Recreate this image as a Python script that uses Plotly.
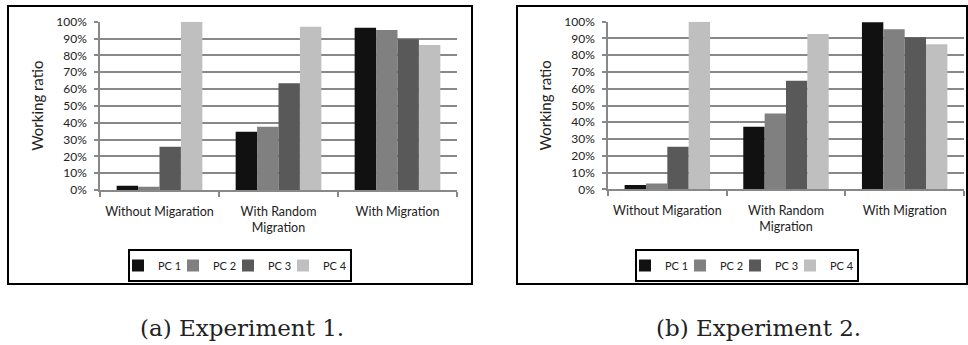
import plotly.graph_objects as go

W, H = 968, 345

categories = ["Without Migaration", "With Random<br>Migration", "With Migration"]
series_names = ["PC 1", "PC 2", "PC 3", "PC 4"]
colors = ["#111111", "#808080", "#595959", "#bfbfbf"]

exp1_pc1 = [0.025, 0.346, 0.964]
exp1_pc2 = [0.020, 0.376, 0.950]
exp1_pc3 = [0.257, 0.634, 0.895]
exp1_pc4 = [1.000, 0.970, 0.861]

exp2_pc1 = [0.026, 0.373, 0.996]
exp2_pc2 = [0.035, 0.453, 0.955]
exp2_pc3 = [0.254, 0.648, 0.907]
exp2_pc4 = [1.000, 0.927, 0.865]

tick_vals = [0, 0.1, 0.2, 0.3, 0.4, 0.5, 0.6, 0.7, 0.8, 0.9, 1.0]
tick_text = ["0%", "10%", "20%", "30%", "40%", "50%", "60%", "70%", "80%", "90%", "100%"]

captions = ["(a) Experiment 1.", "(b) Experiment 2."]

FONT = "Lato"

def px(x):
    return x / W

def py(y):
    return 1 - y / H

fig = go.Figure()

exp1 = [exp1_pc1, exp1_pc2, exp1_pc3, exp1_pc4]
exp2 = [exp2_pc1, exp2_pc2, exp2_pc3, exp2_pc4]

for name, col, vals in zip(series_names, colors, exp1):
    fig.add_trace(go.Bar(x=categories, y=vals, name=name, marker=dict(color=col, line=dict(width=0)),
                         xaxis="x", yaxis="y", legend="legend"))
for name, col, vals in zip(series_names, colors, exp2):
    fig.add_trace(go.Bar(x=categories, y=vals, name=name, marker=dict(color=col, line=dict(width=0)),
                         xaxis="x2", yaxis="y2", legend="legend2"))

panels = [
    dict(plot=(100, 457, 21.7, 190), frame=(8, 472, 6, 284), legend_c=240, title_x=37),
    dict(plot=(608, 964, 21.7, 189.3), frame=(517, 967, 6, 284), legend_c=747, title_x=545),
]

common_x = dict(type="category", showgrid=False, showline=True, linecolor="#888888", linewidth=1.5,
                ticks="outside", ticklen=5, tickcolor="#888888", tickwidth=1.5, tickson="boundaries",
                ticklabelstandoff=9, tickangle=0,
                tickfont=dict(family=FONT, size=12.5, color="#222222"), fixedrange=True, automargin=False)
common_y = dict(range=[0, 1], tickvals=tick_vals, ticktext=tick_text, showgrid=True, gridcolor="#888888",
                gridwidth=1.5, showline=True, linecolor="#888888", linewidth=1.5, ticks="outside",
                ticklen=4, tickcolor="#888888", tickwidth=1.5, zeroline=False, automargin=False,
                ticklabelstandoff=5,
                tickfont=dict(family=FONT, size=12, color="#222222"), fixedrange=True)

legend_common = dict(orientation="h", xanchor="center", y=py(249), yanchor="top",
                     bordercolor="black", borderwidth=2, font=dict(family=FONT, size=11, color="#222222"),
                     itemwidth=30, entrywidth=22, tracegroupgap=0, bgcolor="white", indentation=-12)

p0 = panels[0]["plot"]
p1 = panels[1]["plot"]
fig.update_layout(
    width=W, height=H, margin=dict(l=0, r=0, t=0, b=0, autoexpand=False),
    paper_bgcolor="white", plot_bgcolor="white",
    barmode="group", bargap=0.28, bargroupgap=0,
    xaxis=dict(domain=[px(p0[0]), px(p0[1])], anchor="y", **common_x),
    yaxis=dict(domain=[py(p0[3]), py(p0[2])], anchor="x", **common_y),
    xaxis2=dict(domain=[px(p1[0]), px(p1[1])], anchor="y2", **common_x),
    yaxis2=dict(domain=[py(p1[3]), py(p1[2])], anchor="x2", **common_y),
    legend=dict(x=px(panels[0]["legend_c"]), **legend_common),
    legend2=dict(x=px(panels[1]["legend_c"]), **legend_common),
    showlegend=True,
)

shapes = []
annotations = []
for i, p in enumerate(panels):
    x0, x1, y0, y1 = p["frame"]
    shapes.append(dict(type="rect", xref="paper", yref="paper", x0=px(x0), x1=px(x1), y0=py(y1), y1=py(y0),
                       line=dict(color="black", width=2), fillcolor="rgba(0,0,0,0)", layer="below"))
    pl = p["plot"]
    annotations.append(dict(text="Working ratio", xref="paper", yref="paper", x=px(p["title_x"]),
                            y=py((pl[2] + pl[3]) / 2), textangle=-90, showarrow=False,
                            font=dict(family=FONT, size=15, color="#222222"), xanchor="center", yanchor="middle"))
    annotations.append(dict(text=captions[i], xref="paper", yref="paper", x=px([242, 758][i]), y=py(328),
                            showarrow=False, font=dict(family="DejaVu Serif", size=23, color="#222222"),
                            xanchor="center", yanchor="middle"))

fig.update_layout(shapes=shapes, annotations=annotations)

fig.write_html("out.html", config={"displayModeBar": False},
               post_script="document.body.style.margin='0';document.body.style.padding='0';document.body.style.overflow='hidden';")
